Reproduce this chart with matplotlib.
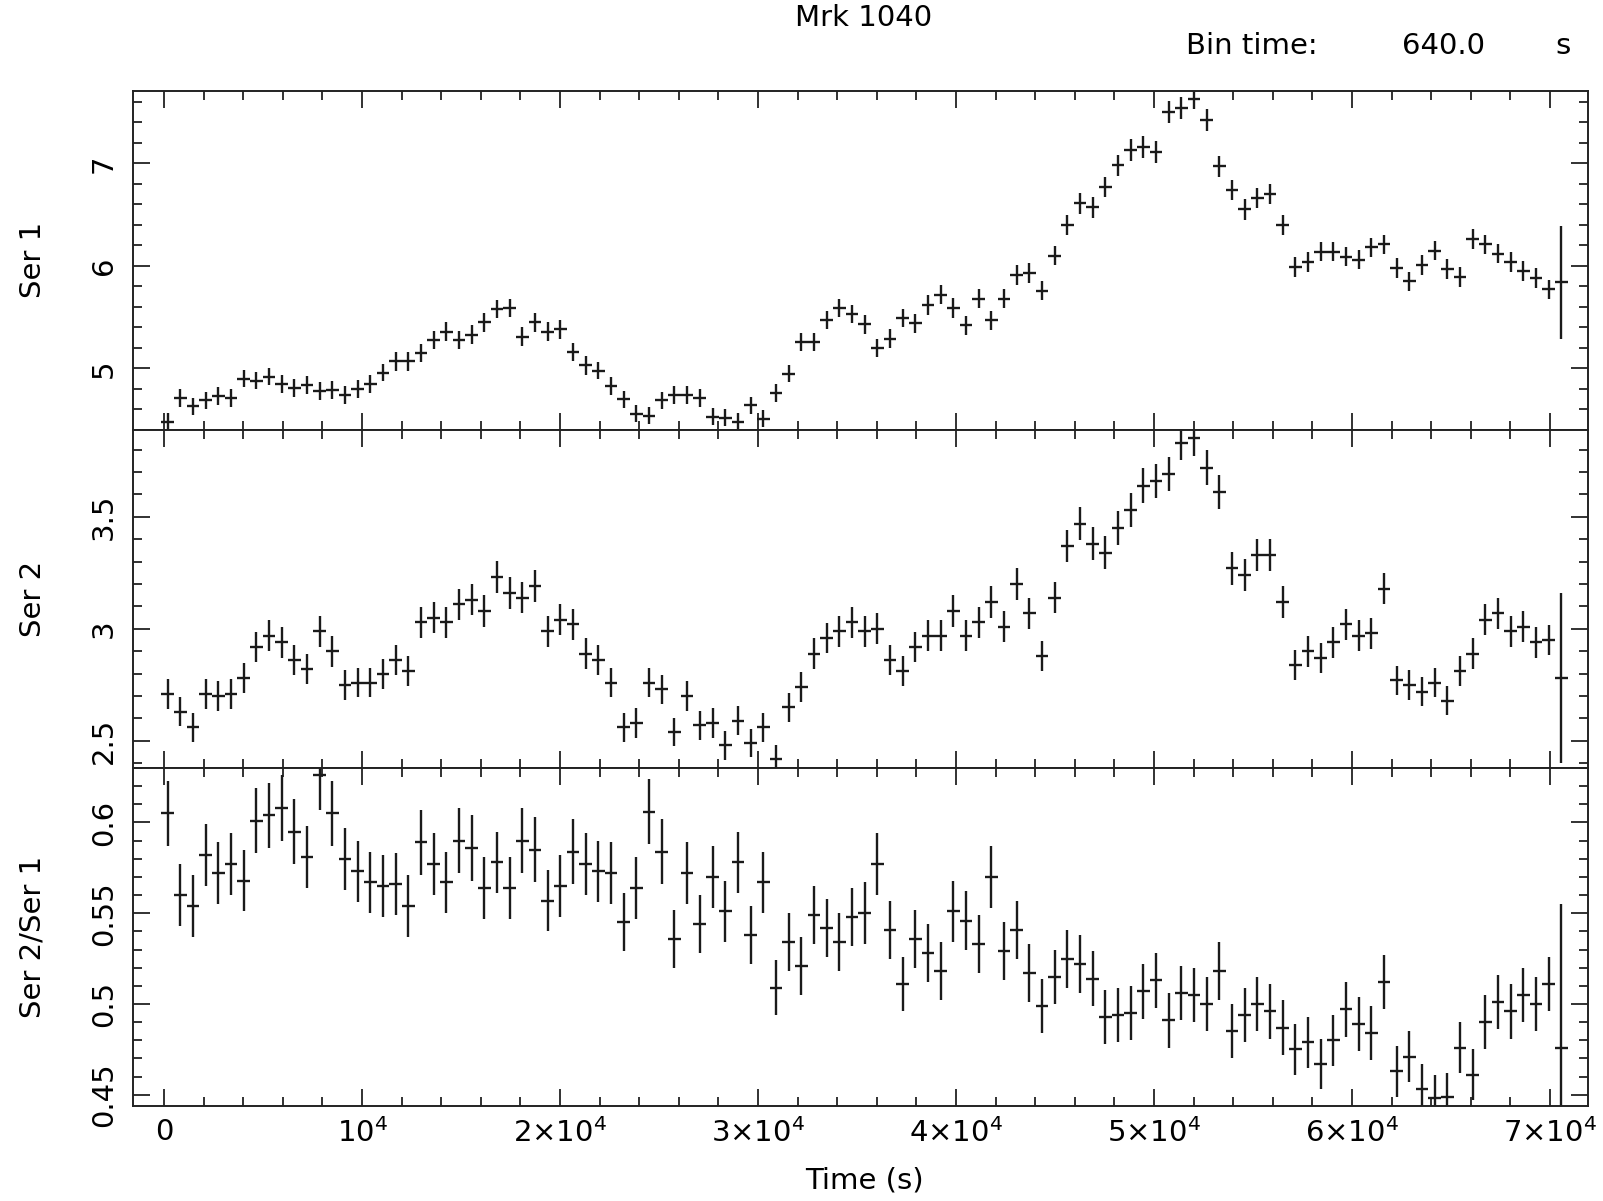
import matplotlib.pyplot as plt
from matplotlib.ticker import MultipleLocator
import numpy as np

# light curve binned at 640 s
bin_time = 640.0
t_first = 180.0

ser1 = [4.48, 4.71, 4.63, 4.69, 4.73, 4.71, 4.90, 4.88, 4.92, 4.85, 4.81, 4.84,
        4.78, 4.79, 4.74, 4.80, 4.85, 4.96, 5.07, 5.07, 5.15, 5.28, 5.36, 5.28,
        5.33, 5.45, 5.58, 5.59, 5.31, 5.45, 5.36, 5.38, 5.16, 5.03, 4.98, 4.83,
        4.70, 4.56, 4.54, 4.69, 4.74, 4.74, 4.71, 4.53, 4.52, 4.48, 4.64, 4.51,
        4.76, 4.95, 5.26, 5.26, 5.47, 5.59, 5.53, 5.43, 5.20, 5.29, 5.49, 5.44,
        5.62, 5.72, 5.59, 5.42, 5.68, 5.47, 5.68, 5.91, 5.93, 5.76, 6.10, 6.40,
        6.61, 6.57, 6.77, 6.98, 7.13, 7.16, 7.11, 7.50, 7.54, 7.63, 7.42, 6.97,
        6.74, 6.55, 6.66, 6.70, 6.40, 5.99, 6.04, 6.14, 6.14, 6.09, 6.06, 6.18,
        6.21, 5.98, 5.85, 6.01, 6.15, 5.97, 5.89, 6.26, 6.21, 6.12, 6.04, 5.95,
        5.88, 5.77, 5.84]
ser1_err = [0.085, 0.085, 0.085, 0.085, 0.085, 0.085, 0.085, 0.085, 0.085, 0.085, 0.085, 0.085,
            0.085, 0.085, 0.085, 0.085, 0.085, 0.085, 0.09, 0.09, 0.09, 0.09, 0.09, 0.09,
            0.09, 0.09, 0.09, 0.09, 0.09, 0.09, 0.09, 0.09, 0.09, 0.09, 0.085, 0.085,
            0.085, 0.085, 0.085, 0.085, 0.085, 0.085, 0.085, 0.085, 0.085, 0.085, 0.085, 0.085,
            0.085, 0.085, 0.09, 0.09, 0.09, 0.09, 0.09, 0.09, 0.09, 0.09, 0.09, 0.09,
            0.095, 0.095, 0.095, 0.095, 0.095, 0.095, 0.095, 0.095, 0.095, 0.095, 0.095, 0.1,
            0.1, 0.1, 0.1, 0.1, 0.105, 0.105, 0.105, 0.105, 0.105, 0.105, 0.105, 0.1,
            0.1, 0.1, 0.1, 0.1, 0.1, 0.095, 0.095, 0.095, 0.095, 0.095, 0.095, 0.095,
            0.095, 0.095, 0.095, 0.095, 0.095, 0.095, 0.095, 0.095, 0.095, 0.095, 0.095, 0.095,
            0.095, 0.095, 0.55]

ser2 = [2.71, 2.63, 2.56, 2.71, 2.70, 2.71, 2.78, 2.92, 2.97, 2.94, 2.86, 2.82,
        2.99, 2.90, 2.75, 2.76, 2.76, 2.80, 2.86, 2.81, 3.03, 3.05, 3.03, 3.11,
        3.13, 3.08, 3.23, 3.16, 3.14, 3.19, 2.99, 3.04, 3.02, 2.89, 2.86, 2.76,
        2.56, 2.58, 2.76, 2.73, 2.54, 2.70, 2.57, 2.58, 2.48, 2.59, 2.49, 2.56,
        2.42, 2.65, 2.74, 2.89, 2.96, 2.99, 3.03, 2.99, 3.00, 2.86, 2.81, 2.92,
        2.97, 2.97, 3.08, 2.97, 3.03, 3.12, 3.01, 3.20, 3.07, 2.88, 3.14, 3.37,
        3.47, 3.38, 3.34, 3.45, 3.53, 3.64, 3.66, 3.69, 3.83, 3.85, 3.72, 3.61,
        3.27, 3.24, 3.33, 3.33, 3.12, 2.84, 2.90, 2.87, 2.94, 3.02, 2.97, 2.98,
        3.18, 2.77, 2.75, 2.72, 2.76, 2.68, 2.81, 2.89, 3.04, 3.07, 2.99, 3.01,
        2.94, 2.95, 2.78]
ser2_err = [0.066, 0.065, 0.065, 0.066, 0.066, 0.066, 0.067, 0.068, 0.069, 0.068, 0.067, 0.067,
            0.069, 0.068, 0.066, 0.066, 0.066, 0.067, 0.067, 0.067, 0.069, 0.069, 0.069, 0.07,
            0.07, 0.07, 0.071, 0.07, 0.07, 0.071, 0.069, 0.069, 0.069, 0.068, 0.067, 0.066,
            0.065, 0.065, 0.066, 0.066, 0.064, 0.066, 0.065, 0.065, 0.064, 0.065, 0.064, 0.065,
            0.063, 0.065, 0.066, 0.068, 0.068, 0.069, 0.069, 0.069, 0.069, 0.067, 0.067, 0.068,
            0.069, 0.069, 0.07, 0.069, 0.069, 0.07, 0.069, 0.071, 0.07, 0.068, 0.07, 0.073,
            0.074, 0.073, 0.073, 0.074, 0.075, 0.076, 0.076, 0.076, 0.078, 0.078, 0.077, 0.076,
            0.072, 0.071, 0.072, 0.072, 0.07, 0.067, 0.068, 0.067, 0.068, 0.069, 0.069, 0.069,
            0.071, 0.066, 0.066, 0.066, 0.066, 0.065, 0.067, 0.068, 0.069, 0.07, 0.069, 0.069,
            0.068, 0.068, 0.38]

ratio = [0.605, 0.560, 0.554, 0.582, 0.572, 0.577, 0.568, 0.601, 0.604, 0.608, 0.595, 0.581,
         0.626, 0.605, 0.580, 0.573, 0.567, 0.565, 0.566, 0.554, 0.589, 0.577, 0.567, 0.590,
         0.586, 0.564, 0.578, 0.564, 0.590, 0.585, 0.557, 0.565, 0.584, 0.577, 0.573, 0.572,
         0.545, 0.564, 0.606, 0.584, 0.536, 0.572, 0.544, 0.570, 0.551, 0.578, 0.538, 0.567,
         0.509, 0.534, 0.521, 0.549, 0.542, 0.534, 0.548, 0.550, 0.577, 0.541, 0.511, 0.536,
         0.528, 0.518, 0.551, 0.546, 0.533, 0.570, 0.529, 0.541, 0.517, 0.499, 0.515, 0.525,
         0.522, 0.514, 0.493, 0.494, 0.495, 0.507, 0.513, 0.491, 0.506, 0.505, 0.500, 0.518,
         0.485, 0.494, 0.500, 0.496, 0.487, 0.475, 0.479, 0.467, 0.480, 0.497, 0.489, 0.484,
         0.512, 0.463, 0.471, 0.453, 0.448, 0.449, 0.476, 0.461, 0.490, 0.501, 0.496, 0.505,
         0.500, 0.511, 0.476]
ratio_err = [0.018, 0.017, 0.017, 0.017, 0.017, 0.017, 0.017, 0.018, 0.018, 0.018, 0.018, 0.017,
             0.019, 0.018, 0.017, 0.017, 0.017, 0.017, 0.017, 0.017, 0.018, 0.017, 0.017, 0.018,
             0.018, 0.017, 0.017, 0.017, 0.018, 0.018, 0.017, 0.017, 0.018, 0.017, 0.017, 0.017,
             0.016, 0.017, 0.018, 0.018, 0.016, 0.017, 0.016, 0.017, 0.017, 0.017, 0.016, 0.017,
             0.015, 0.016, 0.016, 0.016, 0.016, 0.016, 0.016, 0.017, 0.017, 0.016, 0.015, 0.016,
             0.016, 0.016, 0.017, 0.016, 0.016, 0.017, 0.016, 0.016, 0.016, 0.015, 0.015, 0.016,
             0.016, 0.015, 0.015, 0.015, 0.015, 0.015, 0.015, 0.015, 0.015, 0.015, 0.015, 0.016,
             0.015, 0.015, 0.015, 0.015, 0.015, 0.014, 0.014, 0.014, 0.014, 0.015, 0.015, 0.015,
             0.015, 0.014, 0.014, 0.014, 0.013, 0.013, 0.014, 0.014, 0.015, 0.015, 0.015, 0.015,
             0.015, 0.015, 0.079]

x_ticks = [0, 10000, 20000, 30000, 40000, 50000, 60000, 70000]
x_ticklabels = ['0', '$10^4$', r'$2{\times}10^4$', r'$3{\times}10^4$', r'$4{\times}10^4$',
                r'$5{\times}10^4$', r'$6{\times}10^4$', r'$7{\times}10^4$']

ser1_ticks, ser1_labels = [5, 6, 7], ['5', '6', '7']
ser2_ticks, ser2_labels = [2.5, 3, 3.5], ['2.5', '3', '3.5']
ratio_ticks, ratio_labels = [0.45, 0.5, 0.55, 0.6], ['0.45', '0.5', '0.55', '0.6']

plt.rcParams['font.family'] = 'DejaVu Sans'
plt.rcParams['mathtext.default'] = 'regular'

times = t_first + bin_time * np.arange(len(ser1))

W, H = 1603, 1201
fig = plt.figure(figsize=(W / 100, H / 100), dpi=100)

# panel pixel edges (top, bottom)
edges = [(91, 429.5), (429.5, 768), (768, 1105.7)]
x0, x1 = 133, 1588

panels = [
    (ser1, ser1_err, (4.405, 7.705), ser1_ticks, ser1_labels, 0.2, 'Ser 1'),
    (ser2, ser2_err, (2.379, 3.89), ser2_ticks, ser2_labels, 0.1, 'Ser 2'),
    (ratio, ratio_err, (0.444, 0.630), ratio_ticks, ratio_labels, 0.01, 'Ser 2/Ser 1'),
]

fs = 21
for k, (vals, errs, ylim, yt, ytl, yminor, ylab) in enumerate(panels):
    top, bot = edges[k]
    ax = fig.add_axes([x0 / W, 1 - bot / H, (x1 - x0) / W, (bot - top) / H])
    ax.errorbar(times, vals, xerr=bin_time / 2, yerr=errs, fmt='none',
                ecolor='#1a1a1a', elinewidth=1.7, capsize=0)
    ax.set_xlim(-1570, 71920)
    ax.set_ylim(*ylim)

    ax.set_xticks(x_ticks)
    ax.xaxis.set_minor_locator(MultipleLocator(2000))
    ax.set_yticks(yt)
    ax.set_yticklabels(ytl, rotation=90, va='center', fontsize=fs)
    ax.yaxis.set_minor_locator(MultipleLocator(yminor))

    ax.tick_params(which='both', direction='in', top=True, right=True, width=1.3, color='#222222')
    ax.tick_params(which='major', length=12)
    ax.tick_params(which='minor', length=6.5)
    ax.tick_params(axis='y', pad=11)
    for s in ax.spines.values():
        s.set_linewidth(1.4)
        s.set_color('#222222')

    if k == 2:
        ax.set_xticklabels(x_ticklabels, fontsize=fs)
        ax.tick_params(axis='x', pad=9)
    else:
        ax.set_xticklabels([])

    fig.text(33 / W, 1 - (top + bot) / 2 / H, ylab, rotation=90,
             ha='center', va='center', fontsize=fs)

fig.text(864 / W, 1 - 18 / H, 'Mrk 1040', ha='center', va='center', fontsize=fs)
fig.text(1186 / W, 1 - 46 / H, 'Bin time:', ha='left', va='center', fontsize=fs)
fig.text(1444 / W, 1 - 46 / H, '640.0', ha='center', va='center', fontsize=fs)
fig.text(1563 / W, 1 - 46 / H, 's', ha='center', va='center', fontsize=fs)
fig.text(864 / W, 1 - 1181 / H, 'Time (s)', ha='center', va='center', fontsize=fs)

fig.savefig('out.png', dpi=100)
